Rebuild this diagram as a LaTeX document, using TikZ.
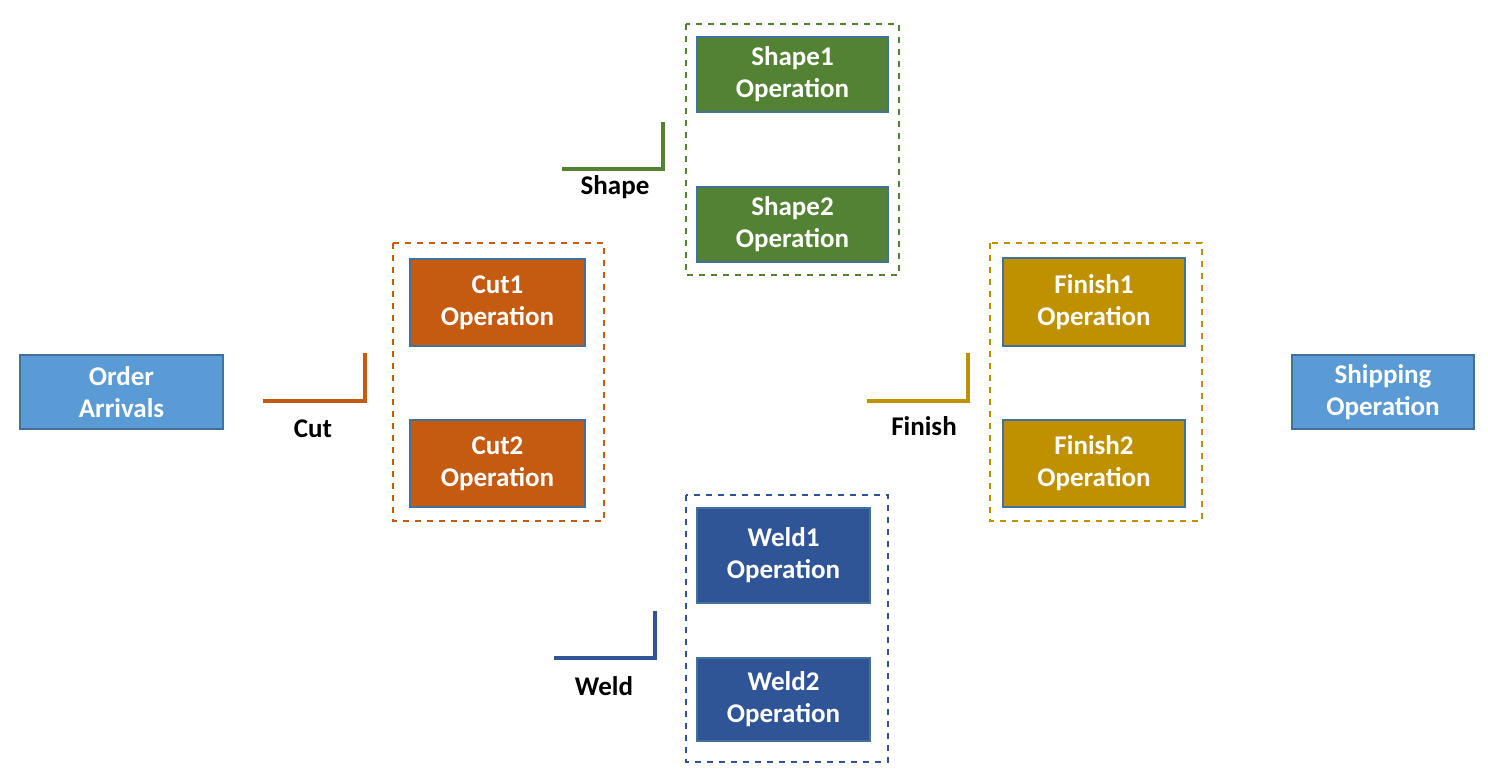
\documentclass[tikz,border=0pt]{standalone}
\usepackage{fontspec}
\setmainfont{Carlito}
\definecolor{cblue}{HTML}{5B9BD5}
\definecolor{cbord}{HTML}{41719C}
\definecolor{ccut}{HTML}{C55A11}
\definecolor{cshape}{HTML}{548235}
\definecolor{cweld}{HTML}{2F5597}
\definecolor{cfin}{HTML}{BF9000}
\begin{document}
\begin{tikzpicture}[x=0.5pt,y=-0.5pt,
  box/.style={draw=cbord,line width=0.8pt,text=white,font=\bfseries\fontsize{13.5}{16}\selectfont,align=center,inner sep=0pt},
  grp/.style={dashed,line width=0.7pt},
  q/.style={line width=2pt},
  lab/.style={font=\bfseries\fontsize{13.5}{16}\selectfont}]
\useasboundingbox (0,0) rectangle (1488,775);
\newcommand{\bx}[7]{\node[box,fill=#2,minimum width=#5*0.5pt-#3*0.5pt,minimum height=#6*0.5pt-#4*0.5pt] (#1) at ({(#3+#5)/2},{(#4+#6)/2}) {#7};}
\bx{order}{cblue}{20}{355}{223}{429}{Order\\Arrivals}
\bx{ship}{cblue}{1292}{355}{1474}{429}{Shipping\\Operation}
\bx{cut1}{ccut}{410}{259}{585}{346}{Cut1\\Operation}
\bx{cut2}{ccut}{410}{420}{585}{507}{Cut2\\Operation}
\bx{shape1}{cshape}{697}{37}{888}{112}{Shape1\\Operation}
\bx{shape2}{cshape}{697}{187}{888}{262}{Shape2\\Operation}
\bx{weld1}{cweld}{697}{508}{870}{603}{Weld1\\Operation}
\bx{weld2}{cweld}{697}{658}{870}{741}{Weld2\\Operation}
\bx{fin1}{cfin}{1003}{258}{1185}{346}{Finish1\\Operation}
\bx{fin2}{cfin}{1003}{420}{1185}{507}{Finish2\\Operation}
\draw[grp,ccut] (393,243) rectangle (604,521);
\draw[grp,cshape] (686,24) rectangle (899,275);
\draw[grp,cweld] (686,495) rectangle (888,762);
\draw[grp,cfin] (990,243) rectangle (1202,521);
\draw[q,ccut] (263,401) -- (365,401) -- (365,353);
\draw[q,cshape] (562,169) -- (663,169) -- (663,122);
\draw[q,cweld] (554,658) -- (655,658) -- (655,611);
\draw[q,cfin] (867,401) -- (968,401) -- (968,353);
\node[lab] (lcut) at (313,429) {Cut};
\node[lab] (lshape) at (615,187) {Shape};
\node[lab] (lweld) at (604,686) {Weld};
\node[lab] (lfin) at (924,426) {Finish};
\end{tikzpicture}
\end{document}
